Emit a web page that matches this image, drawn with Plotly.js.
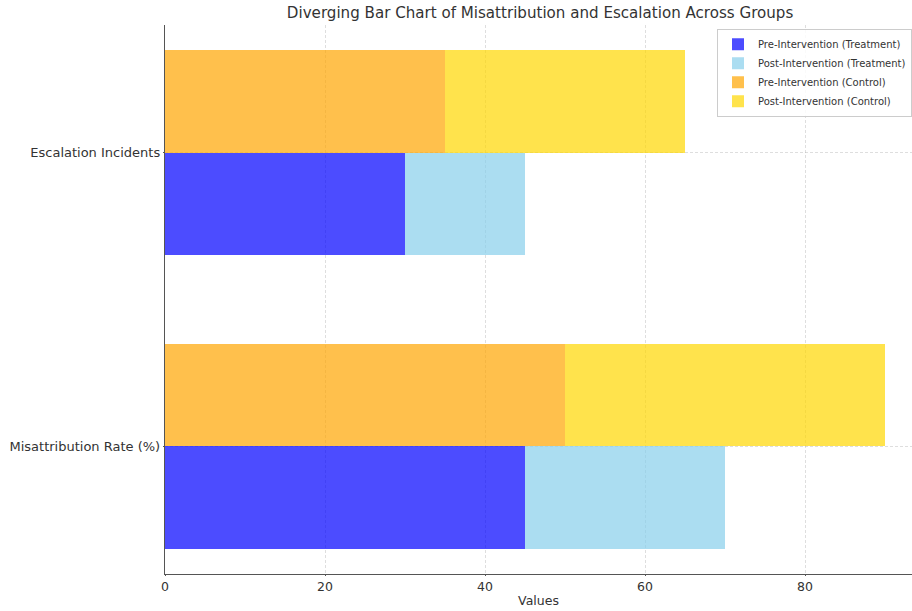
<!DOCTYPE html>
<html>
<head>
<meta charset="utf-8">
<script src="https://cdn.plot.ly/plotly-3.0.1.min.js"></script>
<style>html,body{margin:0;padding:0;background:#fff;}#chart{width:912px;height:611px;}</style>
</head>
<body>
<div id="chart"></div>
<script>
const categories = ["Misattribution Rate (%)", "Escalation Incidents"];
const treatmentPre = [45, 30];
const treatmentPost = [25, 15];
const controlPre = [50, 35];
const controlPost = [40, 30];
const xTicks = [0, 20, 40, 60, 80];

const barH = 0.35;
const idx = categories.map((c, i) => i);
const yTreat = idx.map(i => i - barH / 2);
const yCtrl = idx.map(i => i + barH / 2);

function bar(name, x, y, color) {
  return {
    type: 'bar', orientation: 'h', name: name, x: x, y: y, width: barH,
    marker: {color: color, line: {width: 0}}, hoverinfo: 'x+name'
  };
}

const traces = [
  bar('Pre-Intervention (Treatment)', treatmentPre, yTreat, 'rgba(0,0,255,0.7)'),
  bar('Post-Intervention (Treatment)', treatmentPost, yTreat, 'rgba(135,206,235,0.7)'),
  bar('Pre-Intervention (Control)', controlPre, yCtrl, 'rgba(255,165,0,0.7)'),
  bar('Post-Intervention (Control)', controlPost, yCtrl, 'rgba(255,215,0,0.7)')
];

const xFont = {family: 'DejaVu Sans', size: 12.5, color: '#333'};
const yFont = {family: 'DejaVu Sans', size: 13, color: '#333'};
const gridCol = 'rgba(170,170,170,0.55)';

const layout = {
  width: 912, height: 611,
  margin: {l: 165, r: 0, t: 25, b: 37, pad: 0},
  paper_bgcolor: '#fff', plot_bgcolor: '#fff',
  barmode: 'stack', bargap: 0,
  font: {family: 'DejaVu Sans', color: '#333'},
  title: {
    text: 'Diverging Bar Chart of Misattribution and Escalation Across Groups',
    font: {family: 'DejaVu Sans', size: 15.1, color: '#333'},
    x: 0.5922, xanchor: 'center', y: 0.979, yanchor: 'middle'
  },
  xaxis: {
    range: [0, 93.375], tickvals: xTicks, ticktext: xTicks.map(String),
    showgrid: true, gridcolor: gridCol, griddash: '3px,2px', gridwidth: 0.7,
    showline: true, linecolor: '#555', linewidth: 1.2,
    ticks: 'outside', ticklen: 1, tickcolor: '#555',
    tickfont: xFont, zeroline: false,
    title: {text: 'Values', font: xFont, standoff: 3}
  },
  yaxis: {
    range: [-0.435, 1.435], tickvals: idx, ticktext: categories,
    showgrid: true, gridcolor: gridCol, griddash: '3px,2px', gridwidth: 0.7,
    showline: true, linecolor: '#555', linewidth: 1.2,
    ticks: 'outside', ticklen: 1, tickcolor: '#555',
    tickfont: yFont, zeroline: false
  },
  legend: {
    x: 0.739, xanchor: 'left', y: 0.993, yanchor: 'top',
    traceorder: 'normal',
    bgcolor: 'rgba(255,255,255,0.85)', bordercolor: '#ccc', borderwidth: 1,
    font: {family: 'DejaVu Sans', size: 10, color: '#333'},
    itemsizing: 'constant', tracegroupgap: 0
  },
  showlegend: true
};

Plotly.newPlot('chart', traces, layout, {displayModeBar: false, staticPlot: true});
</script>
</body>
</html>
